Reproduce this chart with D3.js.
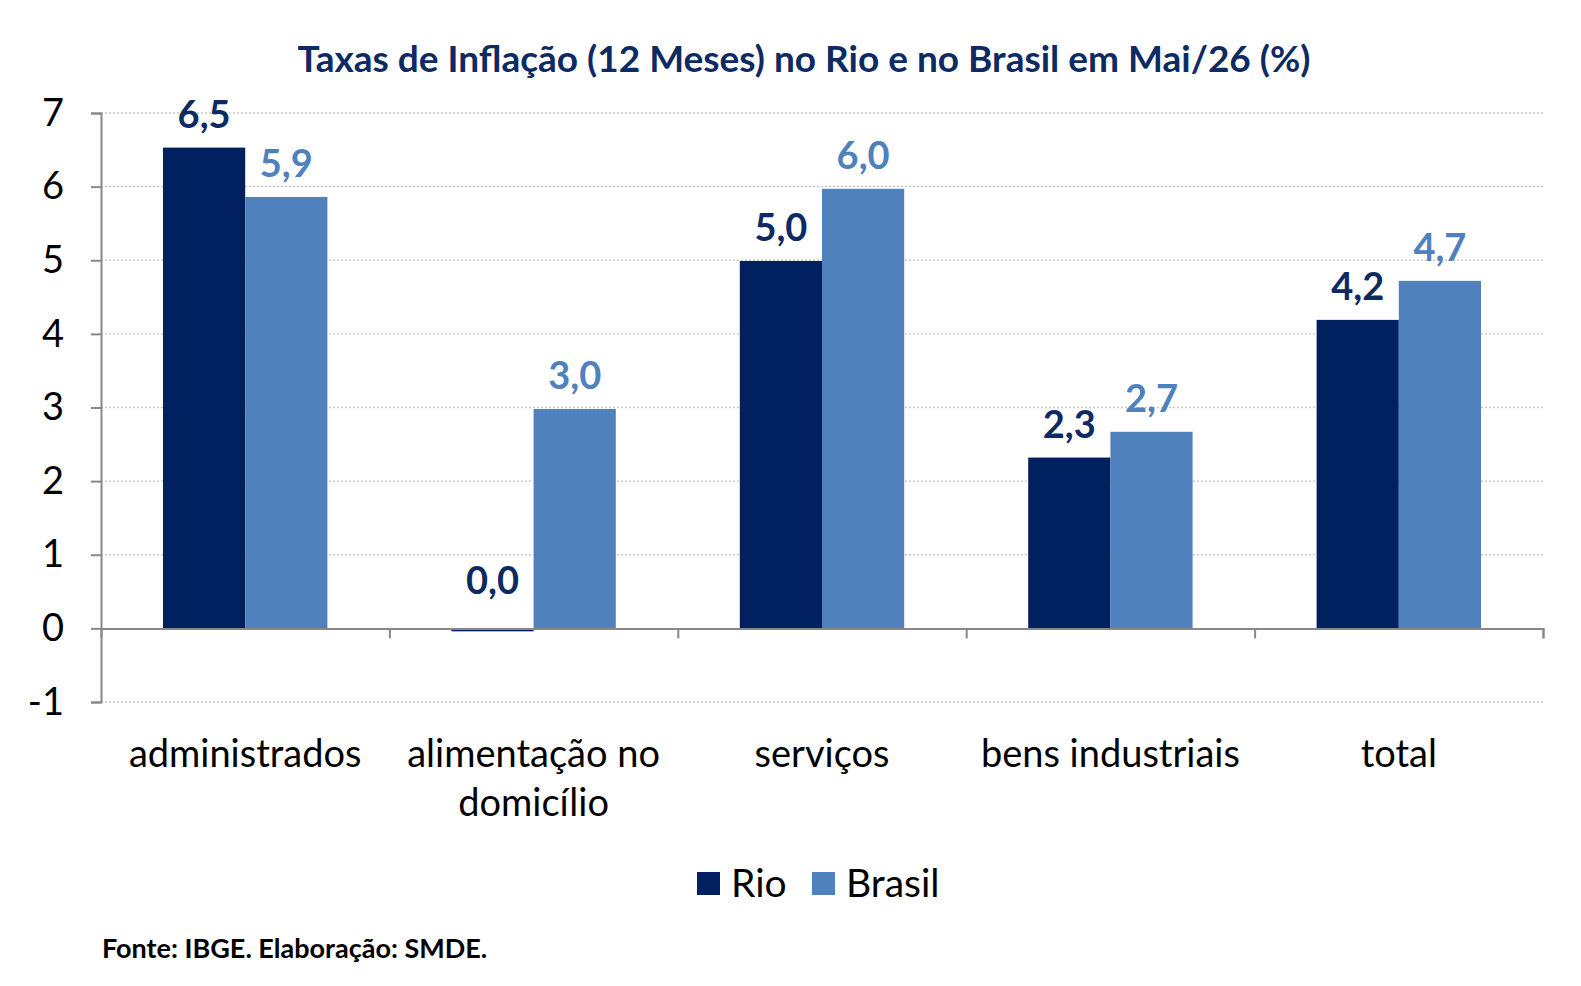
<!DOCTYPE html>
<html>
<head>
<meta charset="utf-8">
<script src="https://cdn.jsdelivr.net/npm/d3@7"></script>
<style>
  body { margin: 0; background: #fff; }
  text { font-family: Lato, "Open Sans", sans-serif; }
</style>
</head>
<body>
<div id="chart"></div>
<script>
// data
let categories = [["administrados"], ["alimentação no", "domicílio"], ["serviços"], ["bens industriais"], ["total"]];
let seriesNames = ["Rio", "Brasil"];
let rioValues = [6.53, -0.04, 4.99, 2.32, 4.19];
let brasilValues = [5.86, 2.98, 5.97, 2.67, 4.72];
let yTicks = [-1, 0, 1, 2, 3, 4, 5, 6, 7];

let colors = ["#002060", "#4f81bd"];
let labelColors = ["#0e2a63", "#4f81bd"];

let svgWidth = 1581;
let svgHeight = 986;
let plotLeft = 101, plotRight = 1543, plotTop = 113, plotBottom = 702;

let svg = d3.select("#chart")
  .append("svg")
  .attr("width", svgWidth)
  .attr("height", svgHeight)

let keys = categories.map((c, i) => i);
let series = [rioValues, brasilValues];

let x0 = d3.scaleBand().domain(keys).range([plotLeft, plotRight]).paddingInner(0.43).paddingOuter(0.215)
let x1 = d3.scaleBand().domain([0, 1]).range([0, x0.bandwidth()])
let yScale = d3.scaleLinear().domain([-1, 7]).range([plotBottom, plotTop])

// title
svg.append("text")
  .attr("x", 804).attr("y", 72)
  .attr("text-anchor", "middle")
  .attr("font-size", 37).attr("font-weight", "bold")
  .attr("fill", "#0e2a63")
  .text("Taxas de Inflação (12 Meses) no Rio e no Brasil em Mai/26 (%)")

// grid lines
svg.append("g")
  .selectAll("line")
  .data(yTicks.filter(d => d !== 0))
  .enter().append("line")
  .attr("x1", plotLeft).attr("x2", plotRight)
  .attr("y1", d => yScale(d)).attr("y2", d => yScale(d))
  .attr("stroke", "#c8c8c8").attr("stroke-width", 1.3)
  .attr("stroke-dasharray", "2,2")

// y axis
let yAxis = d3.axisLeft(yScale).tickValues(yTicks).tickSize(10).tickPadding(27)
  .tickFormat(d => String(d))
let gy = svg.append("g")
  .attr("transform", `translate(${plotLeft},0)`)
  .call(yAxis)
gy.select(".domain").attr("stroke", "#888").attr("stroke-width", 2)
gy.selectAll(".tick line").attr("stroke", "#888").attr("stroke-width", 2)
gy.selectAll(".tick text").attr("font-size", 38).attr("fill", "#000").attr("font-family", "Lato")

// bars
let groups = svg.append("g")
  .selectAll("g")
  .data(keys)
  .enter().append("g")
  .attr("transform", d => `translate(${x0(d)},0)`)

groups.selectAll("rect")
  .data(k => series.map((s, si) => ({ si: si, v: s[k] })))
  .enter().append("rect")
  .attr("x", d => x1(d.si))
  .attr("width", x1.bandwidth())
  .attr("y", d => yScale(Math.max(0, d.v)))
  .attr("height", d => Math.abs(yScale(d.v) - yScale(0)))
  .attr("fill", d => colors[d.si])

let fmt = d3.format(".1f")
groups.selectAll("text")
  .data(k => series.map((s, si) => ({ si: si, v: s[k] })))
  .enter().append("text")
  .attr("x", d => x1(d.si) + x1.bandwidth() / 2)
  .attr("y", d => yScale(Math.max(0, d.v)) - (d.v < 0 ? 34 : 20))
  .attr("text-anchor", "middle")
  .attr("font-size", 38).attr("font-weight", "bold")
  .attr("fill", d => labelColors[d.si])
  .text(d => fmt(d.v).replace("−", "-").replace(".", ","))

// x axis (zero line with category separators)
let xEdge = d3.scaleLinear().domain([0, categories.length]).range([plotLeft, plotRight])
let xAxis = d3.axisBottom(xEdge).ticks(categories.length).tickSize(10).tickFormat("")
let gx = svg.append("g")
  .attr("transform", `translate(0,${yScale(0)})`)
  .call(xAxis)
gx.select(".domain").attr("stroke", "#888").attr("stroke-width", 2)
gx.selectAll(".tick line").attr("stroke", "#888").attr("stroke-width", 2)
gx.selectAll(".tick").filter(d => d === 0).remove()

// category labels
let catLabels = svg.append("g")
  .selectAll("text")
  .data(keys)
  .enter().append("text")
  .attr("x", d => x0(d) + x0.bandwidth() / 2)
  .attr("y", 767)
  .attr("text-anchor", "middle")
  .attr("font-size", 38)
  .attr("fill", "#000")
catLabels.each(function(d) {
  let t = d3.select(this)
  categories[d].forEach((line, i) => {
    t.append("tspan").attr("x", x0(d) + x0.bandwidth() / 2).attr("dy", i === 0 ? 0 : 49).text(line)
  })
})

// legend
let legend = svg.append("g").attr("transform", "translate(697,883)")
let legendX = [0, 115]
seriesNames.forEach((name, i) => {
  legend.append("rect")
    .attr("x", legendX[i]).attr("y", -11)
    .attr("width", 23).attr("height", 23)
    .attr("fill", colors[i])
  legend.append("text")
    .attr("x", legendX[i] + 34).attr("y", 14)
    .attr("font-size", 39).attr("fill", "#000")
    .text(name)
})

// footer
svg.append("text")
  .attr("x", 102).attr("y", 958)
  .attr("font-size", 27).attr("font-weight", "bold")
  .attr("fill", "#000")
  .text("Fonte: IBGE. Elaboração: SMDE.")
</script>
</body>
</html>
